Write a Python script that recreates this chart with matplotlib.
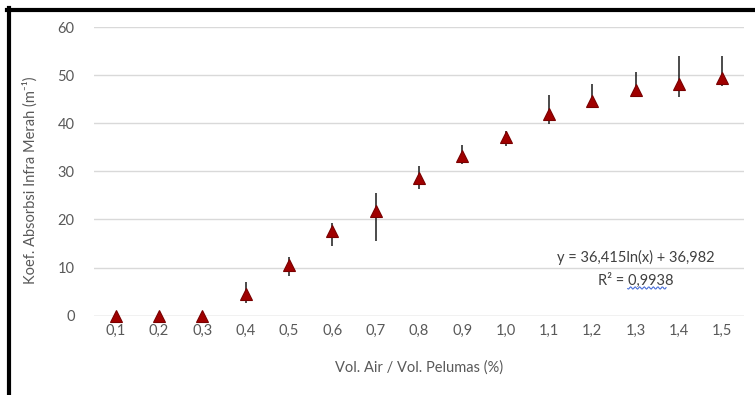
import numpy as np
import matplotlib
matplotlib.use("Agg")
import matplotlib.pyplot as plt
from matplotlib.lines import Line2D

plt.rcParams['font.family'] = ['Lato', 'DejaVu Sans']

# data
rasio = ['0,1', '0,2', '0,3', '0,4', '0,5', '0,6', '0,7', '0,8',
         '0,9', '1,0', '1,1', '1,2', '1,3', '1,4', '1,5']
koef = [0.0, 0.0, 0.0, 4.5, 10.5, 17.5, 21.7, 28.7,
        33.1, 37.1, 42.0, 44.6, 47.0, 48.1, 49.5]
err_bawah = [0.0, 0.0, 0.0, 1.8, 2.3, 3.1, 6.1, 2.4,
             1.5, 1.9, 2.2, 1.1, 1.6, 2.7, 1.8]
err_atas = [0.0, 0.0, 0.0, 2.4, 1.7, 1.8, 3.9, 2.5,
            2.4, 1.2, 3.8, 3.5, 3.7, 5.8, 4.4]
y_ticks = [0, 10, 20, 30, 40, 50, 60]

persamaan = 'y = 36,415ln(x) + 36,982'
r_kuadrat = 'R² = 0,9938'

abu = '#595959'

fig = plt.figure(figsize=(7.55, 3.95), dpi=100)
ax = fig.add_axes([0.1245, 0.2008, 0.861, 0.7308])

x = np.arange(len(rasio))
ax.errorbar(x, koef, yerr=[err_bawah, err_atas], fmt='none',
            ecolor='#1a1a1a', elinewidth=1.1, capsize=0, zorder=3)
ax.plot(x, koef, linestyle='none', marker='^', markersize=8,
        markerfacecolor='#a00000', markeredgecolor='#7a0000',
        markeredgewidth=0.8, zorder=4, clip_on=False)

ax.set_xlim(-0.5, len(rasio) - 0.5)
ax.set_ylim(0, 60)
ax.set_xticks(x)
ax.set_xticklabels(rasio)
ax.set_yticks(y_ticks)
ax.yaxis.grid(True, color='#d9d9d9', linewidth=1.0)
ax.set_axisbelow(True)
for s in ax.spines.values():
    s.set_visible(False)
ax.axhline(0, color='#d9d9d9', linewidth=1.0, zorder=1)
ax.tick_params(axis='both', length=0, labelsize=10.5, labelcolor=abu)
ax.tick_params(axis='y', pad=14)
ax.tick_params(axis='x', pad=6)

ax.set_xlabel('Vol. Air / Vol. Pelumas (%)', fontsize=10.5, color=abu)
ax.xaxis.set_label_coords(0.5, -0.155)
ax.set_ylabel('Koef. Absorbsi Infra Merah (m⁻¹)', fontsize=10.5, color=abu)
ax.yaxis.set_label_coords(-0.086, 0.47)

ax.text(0.834, 0.20, persamaan, transform=ax.transAxes, ha='center',
        va='center', fontsize=10.5, color='#404040')
ax.text(0.834, 0.124, r_kuadrat, transform=ax.transAxes, ha='center',
        va='center', fontsize=10.5, color='#404040')
# spell-check squiggle under the R² value
t = np.linspace(0.821, 0.880, 40)
ax.plot(t, 0.096 + 0.004 * np.sin(t * 900), transform=ax.transAxes,
        color='#4a6fd8', linewidth=0.8, clip_on=False)

# black border remnants of the cropped screenshot
fig.add_artist(Line2D([7 / 755, 1], [1 - 10 / 395, 1 - 10 / 395],
                      color='black', linewidth=3.0, transform=fig.transFigure))
fig.add_artist(Line2D([9 / 755, 9 / 755], [1 - 8 / 395, 0],
                      color='black', linewidth=3.0, transform=fig.transFigure))

fig.savefig('out.png', dpi=100)
